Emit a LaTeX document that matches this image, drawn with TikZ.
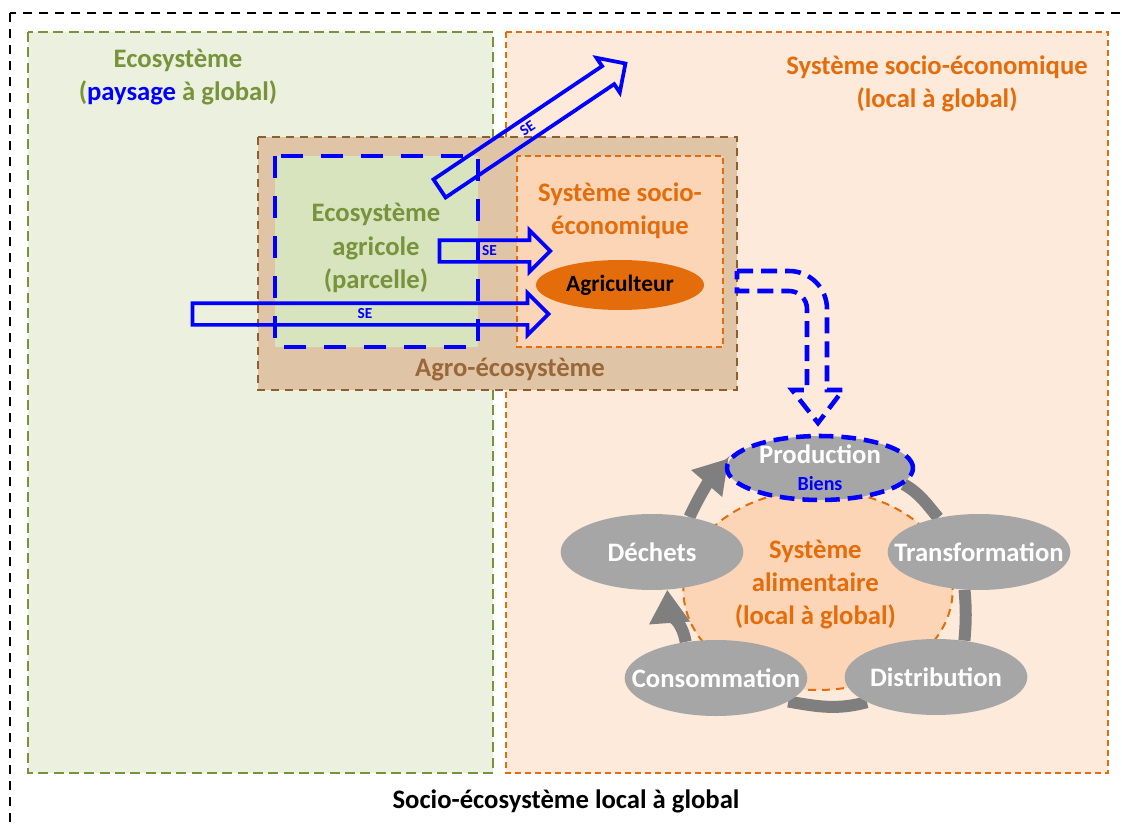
\documentclass[tikz,border=0pt]{standalone}
\usepackage{fontspec}
\setmainfont{Carlito}
\usetikzlibrary{shapes.geometric,shapes.arrows,arrows.meta,positioning}

\definecolor{vertBord}{HTML}{77933C}
\definecolor{vertFond}{HTML}{EBF1DE}
\definecolor{vertParc}{HTML}{D7E4BD}
\definecolor{orBord}{HTML}{E46C0A}
\definecolor{orFond}{HTML}{FDEADA}
\definecolor{orPeche}{HTML}{FBD5B5}
\definecolor{agroFond}{HTML}{E0C4A6}
\definecolor{agroBord}{HTML}{8F5E2E}
\definecolor{agroTexte}{HTML}{9A6838}
\definecolor{gris}{HTML}{A6A6A6}
\definecolor{grisFonce}{HTML}{7F7F7F}
\definecolor{bleu}{HTML}{0000FF}

\pgfdeclarelayer{fond}
\pgfdeclarelayer{anneau}
\pgfsetlayers{fond,anneau,main}

\tikzset{
  titre/.style={font=\bfseries\fontsize{20}{25}\selectfont, align=center, inner sep=0pt},
  cadre/.style={draw=black, line width=1.1pt, dash pattern=on 6.75pt off 5.25pt},
  boxeco/.style={draw=vertBord, fill=vertFond, line width=1.5pt, dash pattern=on 7.5pt off 4pt},
  boxsocio/.style={draw=orBord, fill=orFond, line width=1.1pt, dash pattern=on 4.5pt off 3pt},
  boxagro/.style={draw=agroBord, fill=agroFond, line width=1.5pt, dash pattern=on 6pt off 4.5pt},
  boxparc/.style={draw=bleu, fill=vertParc, line width=3.4pt, dash pattern=on 16.5pt off 13.5pt},
  se/.style={single arrow, draw=bleu, line width=2.8pt, text=bleu,
    font=\bfseries\fontsize{11.5}{11.5}\selectfont, text height=6pt, text depth=0pt,
    inner ysep=3.75pt, inner xsep=0pt, single arrow head extend=7.5pt},
  dbleu/.style={draw=bleu, line width=3.4pt, dash pattern=on 12pt off 6pt},
  gell/.style={ellipse, fill=gris, inner sep=0pt, minimum width=137pt, minimum height=57pt},
  gtext/.style={text=white, font=\bfseries\fontsize{20}{20}\selectfont, align=center, inner sep=0pt},
  ring/.style={draw=grisFonce, line width=9pt},
  ringtip/.style={ring, -{Triangle[width=29pt,length=25pt]}},
}

\begin{document}
\begin{tikzpicture}[x=0.75pt,y=0.75pt]
\useasboundingbox (0,0) rectangle (1122,-828);
\clip (0,0) rectangle (1122,-828);

\begin{pgfonlayer}{fond}
  \fill[white] (0,0) rectangle (1122,-828);
  % socio-ecosysteme
  \draw[cadre] (10,-13) rectangle (1150,-860);
  % ecosysteme et systeme socio-economique
  \draw[boxeco] (28,-32) rectangle (493,-773);
  \draw[boxsocio] (506,-32) rectangle (1108,-773);
  % agro-ecosysteme
  \draw[boxagro] (258,-137) rectangle (737,-390);
  % systeme alimentaire
  \node[ellipse, draw=orBord, fill=orPeche, line width=1.5pt, dash pattern=on 6pt off 4.5pt,
    minimum width=202pt, minimum height=150pt, inner sep=0pt,
    label={[titre, text=orBord, xshift=-2pt, yshift=4pt]center:{Système\\alimentaire\\(local à global)}}]
    (alim) at (818,-590) {};
\end{pgfonlayer}

% parcelle et exploitation
\draw[boxparc] (275,-156) rectangle (478,-347);
\draw[boxsocio, fill=orPeche] (517,-156) rectangle (723,-347);

% titres
\node[titre, text=vertBord] (tEco) at (178,-77) {Ecosystème\\(\textcolor{bleu}{paysage} à global)};
\node[titre, text=orBord] (tSocio) at (937,-84) {Système socio-économique\\(local à global)};
\node[titre, text=vertBord] (tParc) at (376,-248) {Ecosystème\\agricole\\(parcelle)};
\node[titre, text=orBord] (tSocioLoc) at (620,-211) {Système socio-\\économique};
\node[titre, text=agroTexte] (tAgro) at (510,-370) {Agro-écosystème};
\node[titre, text=black] (tSES) at (566,-801) {Socio-écosystème local à global};

\node[ellipse, fill=orBord, inner sep=0pt, minimum width=126pt, minimum height=37.5pt,
  font=\bfseries\fontsize{17.5}{20}\selectfont] (agri) at (620,-285) {Agriculteur};

% services ecosystemiques
\node[se, minimum height=267pt] (seLong) at (365,-314) {SE};
\node[se, minimum height=83pt] (seCourt) at (489.5,-251) {SE};
\node[se, minimum height=168pt, rotate=33.9] (seDiag) at (528,-129) {SE};

% vers la production
\draw[dbleu] (737,-271) -- (789,-271) .. controls (810,-271) and (827,-288) .. (827,-309)
  -- (827,-390) -- (843,-390) -- (818,-423) -- (792,-390) -- (807,-390) -- (807,-309)
  .. controls (807,-299) and (799,-291) .. (789,-291) -- (737,-291) -- cycle;

% cycle alimentaire
\node[gell, draw=bleu, line width=3.4pt, dash pattern=on 11pt off 6pt,
  minimum width=139.5pt, minimum height=48pt,
  label={[gtext]center:{Production\\{\color{bleu}\fontsize{15}{15}\selectfont Biens}}}]
  (prod) at (820,-468) {};
\node[gell, label={[gtext]center:Transformation}] (transf) at (979,-552) {};
\node[gell, label={[gtext]center:Distribution}] (dist) at (936,-677) {};
\node[gell, label={[gtext]center:Consommation}] (cons) at (716,-678) {};
\node[gell, label={[gtext]center:Déchets}] (dech) at (652,-552) {};

\begin{pgfonlayer}{anneau}
  \draw[ring] (prod.-11) to[out=-30,in=130] (transf.140);
  \draw[ring] (transf.-111) to[out=-85,in=85] (dist.52);
  \draw[ring] (dist.-160) to[out=-165,in=-10] (cons.-18);
  \draw[ringtip] (cons.130) to[out=100,in=-86] (dech.-68);
  \draw[ringtip] (dech.43) to[out=65,in=-131] (prod.174);
\end{pgfonlayer}
\end{tikzpicture}
\end{document}
